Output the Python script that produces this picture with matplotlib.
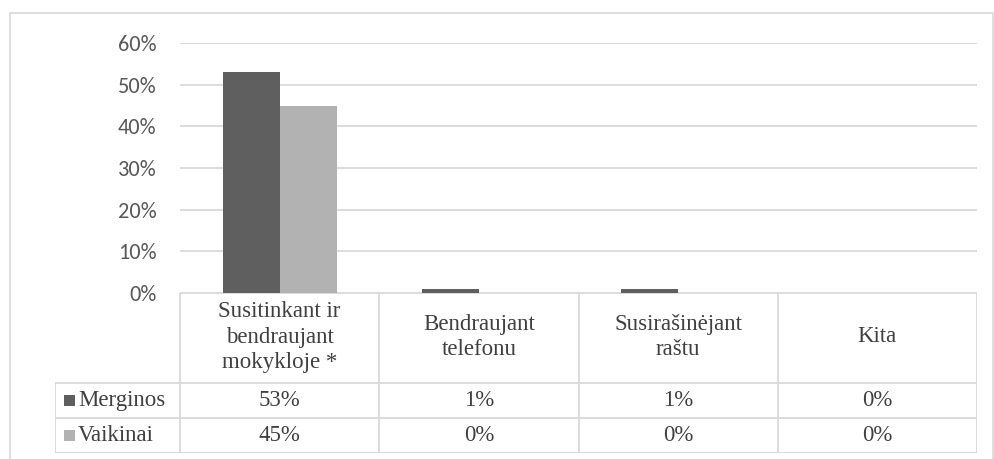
import numpy as np
import matplotlib.pyplot as plt
from matplotlib.patches import Rectangle
from matplotlib.lines import Line2D
from matplotlib.ticker import PercentFormatter

# data
categories = ["Susitinkant ir\nbendraujant\nmokykloje *", "Bendraujant\ntelefonu",
              "Susirašinėjant\nraštu", "Kita"]
series_names = ["Merginos", "Vaikinai"]
merginos = [0.53, 0.01, 0.01, 0.00]
vaikinai = [0.45, 0.00, 0.00, 0.00]
colors = ["#5f5f5f", "#b2b2b2"]

W, H = 994, 459
fig = plt.figure(figsize=(W / 100, H / 100), dpi=100)

def px_axes(x0, y0, x1, y1):
    # pixel box (top-left origin) -> figure axes
    return fig.add_axes([x0 / W, 1 - y1 / H, (x1 - x0) / W, (y1 - y0) / H])

grid_c = "#d9d9d9"
txt_c = "#404040"

# outer chart border (bottom edge is cut off)
bx0, bx1, by = 10 / W, 993 / W, 1 - 13 / H
fig.add_artist(Line2D([bx0, bx0, bx1, bx1], [-0.1, by, by, -0.1],
                      transform=fig.transFigure, color=grid_c, lw=1.2))

# ---- bar plot ----
px_l, px_r, px_top, px_zero = 180, 977, 43, 293
ax = px_axes(px_l, px_top, px_r, px_zero)
x = np.arange(len(categories))
w = 57 / ((px_r - px_l) / 4)
ax.bar(x - w / 2, merginos, w, color=colors[0], zorder=3)
ax.bar(x + w / 2, vaikinai, w, color=colors[1], zorder=3)
ax.set_xlim(-0.5, len(categories) - 0.5)
ax.set_ylim(0, 0.6)
ax.set_yticks(np.arange(0, 0.61, 0.1))
ax.yaxis.set_major_formatter(PercentFormatter(1.0, decimals=0))
ax.grid(axis="y", color=grid_c, lw=1.3, zorder=0)
ax.set_xticks([])
for s in ax.spines.values():
    s.set_visible(False)
ax.tick_params(axis="y", length=0, pad=17, labelsize=16, labelcolor="#595959")
for lab in ax.get_yticklabels():
    lab.set_family(["Carlito", "Lato", "DejaVu Sans"])
ax.set_facecolor("none")

# ---- data table ----
cw = (px_r - px_l) / 4
tab_l, tab_b = 55, 453
tax = px_axes(tab_l, px_zero, px_r, tab_b)
xl = -0.5 - (px_l - tab_l) / cw
tax.set_xlim(xl, len(categories) - 0.5)
tax.set_ylim(0, tab_b - px_zero)
tax.axis("off")
row_h = 35
head_b = 2 * row_h
top = tab_b - px_zero
lk = dict(color=grid_c, lw=1.3, solid_capstyle="projecting")
tax.plot([-0.5, 3.5], [top, top], **lk)
for yy in [0, row_h, head_b]:
    tax.plot([xl, 3.5], [yy, yy], **lk)
tax.plot([xl, xl], [0, head_b], **lk)
for xx in np.arange(-0.5, 3.6, 1):
    tax.plot([xx, xx], [0, top], **lk)

tfont = dict(fontfamily=["Tinos", "Liberation Serif", "Noto Serif", "DejaVu Serif"],
             fontsize=16.5, color=txt_c)
for i, cat in enumerate(categories):
    tax.text(i, (head_b + top) / 2 + 1, cat, ha="center", va="center",
             linespacing=1.3, **tfont)
rows = [merginos, vaikinai]
for r, (name, vals) in enumerate(zip(series_names, rows)):
    yc = head_b - row_h * (r + 0.5)
    sq = 11
    tax.add_patch(Rectangle((xl + 9 / cw, yc - sq / 2), sq / cw, sq,
                            color=colors[r], lw=0))
    tax.text(xl + 23 / cw, yc, name, ha="left", va="center", **tfont)
    for i, v in enumerate(vals):
        tax.text(i, yc, f"{v * 100:.0f}%", ha="center", va="center", **tfont)

fig.savefig("out.png", dpi=100)
